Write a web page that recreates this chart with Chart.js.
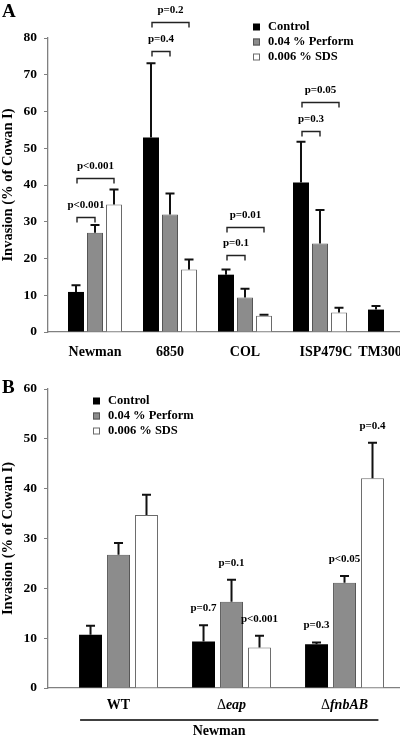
<!DOCTYPE html>
<html>
<head>
<meta charset="utf-8">
<script src="https://cdn.jsdelivr.net/npm/chart.js@4.4.0/dist/chart.umd.min.js"></script>
<style>
  html, body { margin: 0; padding: 0; background: #fff; }
  body { width: 400px; height: 739px; overflow: hidden; position: relative; }
  canvas { position: absolute; left: 0; }
  #chartA { top: 0; }
  #chartB { top: 370px; }
</style>
</head>
<body>
<canvas id="chartA" width="400" height="370"></canvas>
<canvas id="chartB" width="400" height="369"></canvas>
<script>
// ---- shared ----
const seriesNames = ['Control', '0.04 % Perform', '0.006 % SDS'];
const yTitle = 'Invasion (% of Cowan I)';

// ---- panel A ----
const strainsA = ['Newman', '6850', 'COL', 'ISP479C', 'TM300'];
const strainLabelPosA = [0, 1, 2, 3.08, 3.8];
const controlA = [10.9, 52.9, 15.6, 40.7, 6.1];
const controlErrA = [1.8, 20.2, 1.4, 11.1, 1.0];
const performA = [27.0, 32.0, 9.4, 24.1, null];
const performErrA = [2.1, 5.7, 2.4, 9.1, null];
const sdsA = [34.7, 17.0, 4.4, 5.3, null];
const sdsErrA = [4.1, 2.7, 0.3, 1.3, null];
const yMaxA = 80;
// [strain, from series, to series, bracket height, text]
const bracketsA = [
    [0, 0, 1, 31.3, 'p<0.001'],
    [0, 0, 2, 41.9, 'p<0.001'],
    [1, 0, 1, 76.5, 'p=0.4'],
    [1, 0, 2, 84.4, 'p=0.2'],
    [2, 0, 1, 20.9, 'p=0.1'],
    [2, 0, 2, 28.6, 'p=0.01'],
    [3, 0, 1, 54.7, 'p=0.3'],
    [3, 0, 2, 62.5, 'p=0.05']
];

// ---- panel B ----
const mutantsB = ['WT', '\u0394eap', '\u0394fnbAB'];
const groupLabelB = 'Newman';
const controlB = [10.7, 9.35, 8.8];
const controlErrB = [1.8, 3.25, 0.35];
const performB = [26.75, 17.3, 21.1];
const performErrB = [2.35, 4.4, 1.4];
const sdsB = [34.7, 8.15, 42.1];
const sdsErrB = [4.1, 2.35, 7.1];
const pLabelsB = [
    ['', 'p=0.7', 'p=0.3'],
    ['', 'p=0.1', 'p<0.05'],
    ['', 'p<0.001', 'p=0.4']
];
const yMaxB = 60;

const FONT = '"Liberation Serif", "Times New Roman", serif';
const AXIS_GRAY = '#808080';
const fills = ['#000000', '#8c8c8c', '#ffffff'];
const borders = ['#000000', '#555555', '#6a6a6a'];

function toPoints(values) {
    return values.map((v, i) => ({ x: i, y: v }));
}

function makeDatasets(lists, catPct, barPct) {
    return lists.map((vals, k) => ({
        label: seriesNames[k],
        data: toPoints(vals),
        backgroundColor: fills[k],
        borderColor: borders[k],
        borderWidth: k === 0 ? 0 : 1,
        categoryPercentage: catPct,
        barPercentage: barPct
    }));
}

function errorBars(errs) {
    return {
        id: 'errorBars',
        afterDatasetsDraw(chart) {
            const ctx = chart.ctx;
            const y = chart.scales.y;
            ctx.save();
            ctx.strokeStyle = '#111';
            ctx.lineWidth = 2;
            chart.data.datasets.forEach((ds, di) => {
                chart.getDatasetMeta(di).data.forEach((bar, i) => {
                    const v = ds.data[i].y;
                    const e = errs[di][i];
                    if (v == null || e == null) return;
                    const top = y.getPixelForValue(v + e);
                    ctx.beginPath();
                    ctx.moveTo(bar.x, bar.y);
                    ctx.lineTo(bar.x, top);
                    ctx.moveTo(bar.x - 4.5, top);
                    ctx.lineTo(bar.x + 4.5, top);
                    ctx.stroke();
                });
            });
            ctx.restore();
        }
    };
}

function legendPlugin(x, rows) {
    return {
        id: 'boxLegend',
        afterDraw(chart) {
            const ctx = chart.ctx;
            ctx.save();
            ctx.font = 'bold 12.5px ' + FONT;
            ctx.textBaseline = 'middle';
            ctx.textAlign = 'left';
            seriesNames.forEach((name, k) => {
                const cy = rows[k];
                ctx.fillStyle = fills[k];
                ctx.fillRect(x, cy - 3.5, 7, 7);
                if (k > 0) {
                    ctx.strokeStyle = borders[k];
                    ctx.lineWidth = 1;
                    ctx.strokeRect(x + 0.5, cy - 3, 6, 6);
                }
                ctx.fillStyle = '#000';
                ctx.fillText(name, x + 15, cy);
            });
            ctx.restore();
        }
    };
}

function panelLetter(letter, x, y) {
    return {
        id: 'panelLetter',
        afterDraw(chart) {
            const ctx = chart.ctx;
            ctx.save();
            ctx.font = 'bold 19px ' + FONT;
            ctx.fillStyle = '#000';
            ctx.textBaseline = 'alphabetic';
            ctx.fillText(letter, x, y);
            ctx.restore();
        }
    };
}

function baseOptions(xMin, xMax, yMax, padTop, padBottom) {
    return {
        responsive: false,
        animation: false,
        layout: { padding: { top: padTop, bottom: padBottom, left: 0, right: 0 } },
        plugins: { legend: { display: false }, tooltip: { enabled: false } },
        scales: {
            x: {
                type: 'linear',
                offset: false,
                min: xMin,
                max: xMax,
                afterBuildTicks: (axis) => {
                    const t = [];
                    for (let i = 0; i <= Math.floor(xMax); i++) t.push({ value: i });
                    axis.ticks = t;
                },
                ticks: { display: false },
                grid: { display: false, drawTicks: false, offset: false },
                border: { display: true, color: AXIS_GRAY, width: 1.3 }
            },
            y: {
                min: 0,
                max: yMax,
                afterFit: (scale) => { scale.width = 48; },
                ticks: {
                    stepSize: 10,
                    padding: 7,
                    color: '#000',
                    font: { family: FONT, weight: 'bold', size: 13.5 }
                },
                grid: { drawOnChartArea: false, drawTicks: true, tickLength: 4, color: AXIS_GRAY },
                border: { display: true, color: AXIS_GRAY, width: 1.3 },
                title: {
                    display: true,
                    text: yTitle,
                    color: '#000',
                    padding: { top: 0, bottom: 0 },
                    font: { family: FONT, weight: 'bold', size: 14.5 }
                }
            }
        }
    };
}

// ---- panel A chart ----
const bracketsPluginA = {
    id: 'brackets',
    afterDatasetsDraw(chart) {
        const ctx = chart.ctx;
        const y = chart.scales.y;
        ctx.save();
        ctx.strokeStyle = '#222';
        ctx.lineWidth = 1.4;
        ctx.fillStyle = '#000';
        ctx.font = 'bold 11px ' + FONT;
        ctx.textAlign = 'center';
        ctx.textBaseline = 'middle';
        bracketsA.forEach(([cat, a, b, level, text]) => {
            const x1 = chart.getDatasetMeta(a).data[cat].x + 1;
            const x2 = chart.getDatasetMeta(b).data[cat].x;
            const py = Math.round(y.getPixelForValue(level)) + 0.5;
            ctx.beginPath();
            ctx.moveTo(x1, py + 5);
            ctx.lineTo(x1, py);
            ctx.lineTo(x2, py);
            ctx.lineTo(x2, py + 5);
            ctx.stroke();
            ctx.fillText(text, (x1 + x2) / 2, py - 12.5);
        });
        ctx.restore();
    }
};

const xLabelsA = {
    id: 'xLabels',
    afterDraw(chart) {
        const ctx = chart.ctx;
        const x = chart.scales.x;
        ctx.save();
        ctx.font = 'bold 14px ' + FONT;
        ctx.fillStyle = '#000';
        ctx.textAlign = 'center';
        ctx.textBaseline = 'middle';
        strainsA.forEach((s, i) => ctx.fillText(s, x.getPixelForValue(strainLabelPosA[i]), 352));
        ctx.restore();
    }
};

new Chart(document.getElementById('chartA'), {
    type: 'bar',
    data: { datasets: makeDatasets([controlA, performA, sdsA], 0.76, 0.842) },
    options: baseOptions(-0.6267, 4.0667, yMaxA, 38, 38),
    plugins: [errorBars([controlErrA, performErrA, sdsErrA]), bracketsPluginA, xLabelsA,
              legendPlugin(253, [27, 42, 57]), panelLetter('A', 2, 17)]
});

// ---- panel B chart ----
const pTextB = {
    id: 'pText',
    afterDatasetsDraw(chart) {
        const ctx = chart.ctx;
        const y = chart.scales.y;
        const lists = [controlB, performB, sdsB];
        const errs = [controlErrB, performErrB, sdsErrB];
        ctx.save();
        ctx.fillStyle = '#000';
        ctx.font = 'bold 11px ' + FONT;
        ctx.textAlign = 'center';
        ctx.textBaseline = 'middle';
        pLabelsB.forEach((row, k) => {
            row.forEach((txt, i) => {
                if (!txt) return;
                const bar = chart.getDatasetMeta(k).data[i];
                ctx.fillText(txt, bar.x, y.getPixelForValue(lists[k][i] + errs[k][i]) - 17);
            });
        });
        ctx.restore();
    }
};

const xLabelsB = {
    id: 'xLabels',
    afterDraw(chart) {
        const ctx = chart.ctx;
        const x = chart.scales.x;
        const upright = 'bold 14px ' + FONT;
        const italic = 'italic bold 14px ' + FONT;
        ctx.save();
        ctx.fillStyle = '#000';
        ctx.textBaseline = 'middle';
        ctx.textAlign = 'left';
        mutantsB.forEach((label, i) => {
            let head = '';
            let tail = label;
            if (label.charAt(0) === '\u0394') { head = '\u0394'; tail = label.slice(1); }
            ctx.font = '14px ' + FONT;
            const w1 = head ? ctx.measureText(head).width : 0;
            ctx.font = head ? italic : upright;
            const w2 = ctx.measureText(tail).width;
            let px = x.getPixelForValue(i) - (w1 + w2) / 2;
            if (head) {
                ctx.font = '14px ' + FONT;
                ctx.fillText(head, px, 335);
                px += w1;
            }
            ctx.font = head ? italic : upright;
            ctx.fillText(tail, px, 335);
        });
        // strain bracket line and name
        ctx.strokeStyle = '#000';
        ctx.lineWidth = 1.5;
        ctx.beginPath();
        ctx.moveTo(x.getPixelForValue(-0.34), 350);
        ctx.lineTo(x.getPixelForValue(2.3), 350);
        ctx.stroke();
        ctx.font = upright;
        ctx.textAlign = 'center';
        ctx.fillText(groupLabelB, x.getPixelForValue(0.89), 361);
        ctx.restore();
    }
};

new Chart(document.getElementById('chartB'), {
    type: 'bar',
    data: { datasets: makeDatasets([controlB, performB, sdsB], 0.743, 0.82) },
    options: baseOptions(-0.624, 2.491, yMaxB, 19, 51),
    plugins: [errorBars([controlErrB, performErrB, sdsErrB]), pTextB, xLabelsB,
              legendPlugin(93, [31, 46, 61]), panelLetter('B', 2, 23)]
});
</script>
</body>
</html>
